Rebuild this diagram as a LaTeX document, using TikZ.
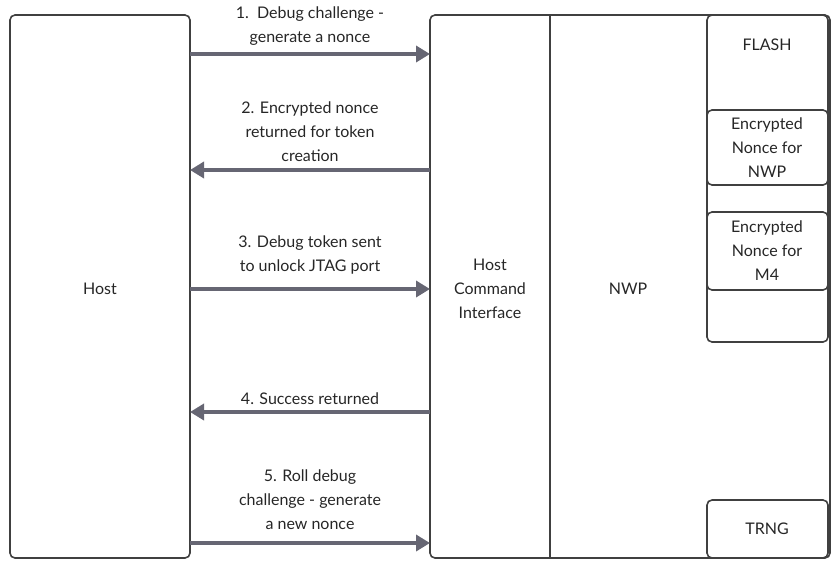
\documentclass[tikz,border=0pt]{standalone}
\usepackage{fontspec}
\setmainfont{Lato}
\usetikzlibrary{arrows.meta}
\begin{document}
\begin{tikzpicture}[x=1pt,y=-1pt,
 box/.style={draw=black!75,line width=1.6pt,rounded corners=5pt},
 arr/.style={draw=black!75!blue!20!gray,line width=4.5pt,-{Triangle[length=14pt,width=16pt]}},
 lbl/.style={font=\fontsize{16}{24}\selectfont,align=center,text=black!85}]
\useasboundingbox (0,0) rectangle (834,568);
\draw[box] (10,15) rectangle (190,558);
\draw[box] (430,15) rectangle (830,558);
\draw[line width=1.6pt,black!75] (550,15) -- (550,558);
\draw[box] (707,15) rectangle (828,342);
\draw[box,fill=white] (707,110) rectangle (828,185);
\draw[box,fill=white] (707,212) rectangle (828,290);
\draw[box] (707,500) rectangle (828,558);
\node[lbl] (host) at (100,289) {Host};
\node[lbl] (hci) at (490,289) {Host\\Command\\Interface};
\node[lbl] (nwp) at (628,289) {NWP};
\node[lbl] (flash) at (767,45) {FLASH};
\node[lbl] (e1) at (767,148) {Encrypted\\Nonce for\\NWP};
\node[lbl] (e2) at (767,251) {Encrypted\\Nonce for\\M4};
\node[lbl] (trng) at (767,529) {TRNG};
\coordinate (h1) at (190,54); \coordinate (c1) at (430,54);
\coordinate (h2) at (190,170); \coordinate (c2) at (430,170);
\coordinate (h3) at (190,289); \coordinate (c3) at (430,289);
\coordinate (h4) at (190,412); \coordinate (c4) at (430,412);
\coordinate (h5) at (190,543); \coordinate (c5) at (430,543);
\draw[arr] (h1) -- (c1);
\draw[arr] (c2) -- (h2);
\draw[arr] (h3) -- (c3);
\draw[arr] (c4) -- (h4);
\draw[arr] (h5) -- (c5);
\node[lbl] (l1) at (310,26) {1.\ \ Debug challenge -\\generate a nonce};
\node[lbl] (l2) at (310,132) {2. Encrypted nonce\\returned for token\\creation};
\node[lbl] (l3) at (310,255) {3. Debug token sent\\to unlock JTAG port};
\node[lbl] (l4) at (310,399) {4. Success returned};
\node[lbl] (l5) at (310,500) {5. Roll debug\\challenge - generate\\a new nonce};
\end{tikzpicture}
\end{document}
